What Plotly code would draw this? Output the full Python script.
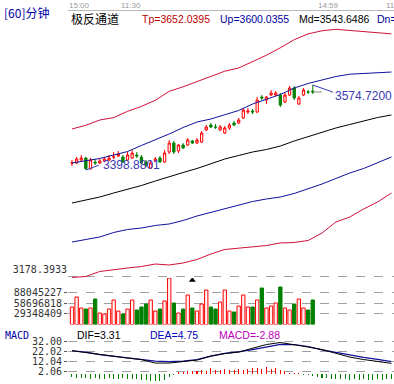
import plotly.graph_objects as go

# ---------------- data ----------------
bar_idx = list(range(53))
c_open = [3413.4, 3413.4, 3419.6, 3423.7, 3400.9, 3415.4, 3413.4, 3417.5, 3419.6, 3425.8,
          3427.8, 3425.8, 3419.6, 3423.7, 3429.9, 3425.8, 3415.4, 3403.0, 3417.5, 3423.7,
          3415.4, 3436.1, 3454.7, 3438.2, 3450.6, 3450.6, 3458.9, 3454.7, 3456.8, 3481.6,
          3492.0, 3487.8, 3481.6, 3475.4, 3485.8, 3496.1, 3496.1, 3506.5, 3518.9, 3520.9,
          3518.9, 3549.9, 3543.7, 3554.0, 3554.0, 3554.0, 3539.6, 3554.0, 3568.5, 3535.4,
          3554.0, 3560.3, 3562.3]
c_close = [3413.6, 3421.6, 3423.7, 3402.0, 3419.6, 3413.4, 3417.5, 3421.6, 3423.7, 3426.0,
           3432.0, 3415.4, 3429.9, 3434.0, 3427.8, 3413.4, 3409.2, 3413.4, 3421.6, 3415.4,
           3434.0, 3454.7, 3436.1, 3450.6, 3444.4, 3460.9, 3454.7, 3460.9, 3475.4, 3487.8,
           3487.8, 3487.6, 3487.8, 3485.8, 3492.0, 3492.0, 3502.3, 3523.0, 3520.9, 3518.9,
           3543.7, 3547.9, 3549.9, 3558.2, 3558.2, 3533.4, 3554.0, 3568.5, 3547.9, 3547.9,
           3564.4, 3560.1, 3560.3]
c_high = [3419.6, 3425.8, 3429.9, 3425.8, 3423.7, 3421.6, 3421.6, 3425.8, 3429.9, 3436.1,
          3438.2, 3429.9, 3436.1, 3440.2, 3436.1, 3429.9, 3419.6, 3417.5, 3425.8, 3427.8,
          3440.2, 3460.9, 3458.9, 3452.7, 3454.7, 3465.1, 3460.9, 3465.1, 3479.6, 3492.0,
          3496.1, 3494.0, 3492.0, 3489.9, 3496.1, 3500.3, 3506.5, 3527.1, 3527.1, 3525.1,
          3549.9, 3554.0, 3552.0, 3564.4, 3562.3, 3558.2, 3558.2, 3572.7, 3572.7, 3552.0,
          3568.5, 3564.4, 3574.72]
c_low = [3407.1, 3411.3, 3417.5, 3398.8801, 3400.9, 3409.2, 3411.3, 3415.4, 3417.5, 3421.6,
         3425.8, 3413.4, 3417.5, 3421.6, 3423.7, 3411.3, 3405.1, 3400.9, 3415.4, 3413.4,
         3413.4, 3432.0, 3432.0, 3434.0, 3442.3, 3448.5, 3452.7, 3452.7, 3454.7, 3479.6,
         3485.8, 3483.7, 3479.6, 3473.4, 3481.6, 3489.9, 3494.0, 3504.4, 3514.7, 3514.7,
         3516.8, 3543.7, 3535.4, 3552.0, 3552.0, 3529.2, 3537.5, 3552.0, 3543.7, 3533.4,
         3552.0, 3556.1, 3556.1]
volume = [48000000, 75400000, 45300000, 42500000, 45300000, 69900000, 31500000, 28800000,
          42500000, 67200000, 37000000, 28800000, 42500000, 67200000, 39800000, 48000000,
          56200000, 67200000, 37000000, 42500000, 64500000, 127500000, 59000000, 31500000,
          42500000, 80900000, 45300000, 37000000, 56200000, 94600000, 48000000, 42500000,
          61700000, 94600000, 37000000, 34300000, 50700000, 80900000, 48000000, 48000000,
          67200000, 100100000, 45300000, 50700000, 59000000, 102900000, 45300000, 39800000,
          56200000, 69900000, 45300000, 39800000, 67200000]

line_idx = [0, 3, 6, 9, 12, 15, 18, 21, 24, 27, 30, 33, 36, 39, 42, 45, 48, 51, 54, 57, 60, 63, 66, 69]
tp = [3483.7, 3491.4, 3502.3, 3507.3, 3520.3, 3530.5, 3543.1, 3561.7, 3571.0, 3581.8, 3592.3, 3603.3,
      3609.9, 3622.3, 3636.4, 3651.7, 3668.5, 3680.5, 3686.9, 3690.0, 3687.5, 3684.8, 3682.7, 3680.5]
up = [3413.4, 3417.5, 3422.7, 3429.9, 3437.1, 3449.6, 3460.9, 3473.4, 3486.8, 3498.2, 3504.4, 3513.7,
      3522.0, 3535.4, 3545.8, 3555.1, 3568.5, 3577.9, 3585.1, 3592.3, 3597.1, 3599.1, 3600.4, 3601.6]
md = [3330.6, 3336.8, 3343.0, 3351.3, 3358.5, 3366.8, 3376.1, 3385.4, 3393.7, 3402.0, 3412.3, 3421.6,
      3428.9, 3436.1, 3441.3, 3448.5, 3458.9, 3468.2, 3476.9, 3485.8, 3493.0, 3500.3, 3507.5, 3512.7]
dn = [3249.9, 3255.1, 3260.3, 3269.6, 3275.8, 3278.9, 3284.1, 3287.2, 3294.4, 3303.7, 3311.0, 3319.2,
      3325.4, 3333.7, 3338.9, 3343.0, 3350.3, 3359.6, 3369.9, 3381.3, 3392.7, 3402.0, 3413.4, 3425.8]
dn2 = [3176.5, 3178.6, 3188.9, 3193.1, 3196.1, 3199.2, 3204.4, 3202.3, 3206.5, 3213.7, 3225.1, 3234.4,
       3237.5, 3239.6, 3242.6, 3247.9, 3248.9, 3253.0, 3268.5, 3291.3, 3301.6, 3318.2, 3332.7, 3351.3]

dif = [23.0, 21.2, 18.7, 17.4, 15.7, 14.2, 10.7, 10.7, 12.2, 13.7, 17.7, 20.2,
       21.7, 25.7, 29.2, 31.2, 29.2, 26.7, 24.2, 20.2, 16.7, 14.2, 12.2, 10.4]
dea = [23.0, 21.7, 19.2, 17.7, 16.2, 14.7, 12.7, 12.2, 12.7, 14.2, 17.7, 20.4,
       21.9, 24.2, 27.0, 29.4, 29.2, 27.2, 23.9, 21.2, 18.7, 16.4, 14.4, 12.2]
macd_idx = list(range(70))
macd_hist = [-3, -4, -4, -4, -5, -4, -5, -5, -4, -5, -5, -4, -5, -5, -5, -6, -6, -7, -7, -7,
             -6, -3, -1.5, 1.5, 2, 2.5, 3, 2.5, 4, 3, 6, 4, 3.5, 5, 4, 3.5, 4.5, 4, 5, 5.5,
             6, 5, 6.5, 5, 6, 4, 3, 1, 0.8, 0.5, -0.8, -1, -2, -3, -4, -4, -5, -5, -5.5, -5,
             -6, -5.5, -6, -5.5, -6, -6, -5.5, -6, -5.5, -5]

vol_ticks = [29348409, 58696818, 88045227]
macd_ticks = [2.06, 12.04, 22.02, 32.00]
main_tick = 3178.3933
signal_idx = [26]
time_labels = ["15:00", "11:30", "14:59", "11:30"]
period_label = "[60]分钟"
ind_name = "极反通道"
legend_vals = {"Tp": "3652.0395", "Up": "3600.0355", "Md": "3543.6486"}
macd_vals = {"DIF": "3.31", "DEA": "4.75", "MACD": "-2.88"}

# ---------------- style ----------------
W, H = 394, 384
def py(p):
    return 1 - p / H
def pxx(p):
    return p / W

RED = "#FF0000"
GREEN = "#008000"
DRED = "#D0103A"
NAVY = "#10109A"
MONO = "DejaVu Sans Mono"
SANS = "Liberation Sans"
CJK = "Noto Sans CJK SC"

x_range = [-0.86, 69.55]
x_dom = [pxx(68), 1]

fig = go.Figure()

# channel lines
for vals, col in [(tp, DRED), (up, NAVY), (md, "#000000"), (dn, NAVY), (dn2, DRED)]:
    fig.add_trace(go.Scatter(x=line_idx, y=vals, mode="lines", line=dict(color=col, width=1),
                             xaxis="x", yaxis="y", hoverinfo="skip"))

fig.add_trace(go.Candlestick(
    x=bar_idx, open=c_open, high=c_high, low=c_low, close=c_close,
    increasing=dict(line=dict(color=RED, width=1), fillcolor="#FFFFFF"),
    decreasing=dict(line=dict(color=GREEN, width=1), fillcolor=GREEN),
    xaxis="x", yaxis="y", hoverinfo="skip"))

# low / high markers
lo_i = min(range(len(c_low)), key=lambda i: c_low[i])
hi_i = max(range(len(c_high)), key=lambda i: c_high[i])
MARK = "#3B3BB5"
fig.add_trace(go.Scatter(x=[lo_i, lo_i + 2.8], y=[c_low[lo_i], c_low[lo_i] + 10],
                         mode="lines", line=dict(color=MARK, width=1), xaxis="x", yaxis="y"))
fig.add_trace(go.Scatter(x=[hi_i, hi_i + 4.3], y=[c_high[hi_i], c_close[hi_i]],
                         mode="lines", line=dict(color=MARK, width=1), xaxis="x", yaxis="y"))
fig.add_trace(go.Scatter(x=[hi_i, hi_i + 4.3], y=[c_close[hi_i], c_close[hi_i]],
                         mode="lines", line=dict(color="#888888", width=1, dash="dash"),
                         xaxis="x", yaxis="y"))

# volume
up_flags = [c >= o for o, c in zip(c_open, c_close)]
fig.add_trace(go.Bar(x=bar_idx, y=volume, width=0.72,
                     marker=dict(color=["#FFF2F2" if u else GREEN for u in up_flags],
                                 line=dict(color=[RED if u else GREEN for u in up_flags], width=1)),
                     xaxis="x2", yaxis="y2", hoverinfo="skip"))
fig.add_trace(go.Scatter(x=signal_idx, y=[max(volume) * 0.955] * len(signal_idx), mode="markers",
                         marker=dict(symbol="triangle-up", size=6, color="#000000"),
                         xaxis="x2", yaxis="y2"))

# MACD
fig.add_trace(go.Bar(x=macd_idx, y=macd_hist, width=0.22,
                     marker=dict(color=[RED if v > 0 else GREEN for v in macd_hist], line=dict(width=0)),
                     xaxis="x3", yaxis="y3", hoverinfo="skip"))
fig.add_trace(go.Scatter(x=line_idx, y=dea, mode="lines", line=dict(color=NAVY, width=1.2),
                         xaxis="x3", yaxis="y3"))
fig.add_trace(go.Scatter(x=line_idx, y=dif, mode="lines", line=dict(color="#000000", width=1),
                         xaxis="x3", yaxis="y3"))

tickfont = dict(family=MONO, size=10, color="#333333")
common_x = dict(domain=x_dom, range=x_range, visible=False, fixedrange=True)
fig.update_layout(
    width=W, height=H, margin=dict(l=0, r=0, t=0, b=0),
    paper_bgcolor="white", plot_bgcolor="white", showlegend=False,
    bargap=0, barmode="overlay", boxgap=0.3,
    xaxis=dict(**common_x, anchor="y", rangeslider=dict(visible=False)),
    xaxis2=dict(**common_x, anchor="y2"),
    xaxis3=dict(**common_x, anchor="y3"),
    yaxis=dict(domain=[py(279), py(22)], range=[3173.36, 3705.09], tickvals=[main_tick],
               ticktext=[f"{main_tick:.4f}"], ticklabelposition="outside top",
               showgrid=True, gridcolor="#A0A0A0", griddash="dash", zeroline=False,
               showline=False, tickfont=tickfont, ticks="", fixedrange=True),
    yaxis2=dict(domain=[py(324.5), py(278)], range=[0, 127.6e6], tickvals=vol_ticks,
                ticktext=[str(v) for v in vol_ticks], showgrid=True, gridcolor="#A0A0A0",
                griddash="dash", zeroline=False, showline=False, tickfont=tickfont,
                ticks="outside", ticklen=3, tickcolor="#555555", fixedrange=True),
    yaxis3=dict(domain=[0, py(327)], range=[-10.2, 46.7], tickvals=macd_ticks,
                ticktext=[f"{v:.2f}" for v in macd_ticks], showgrid=True, gridcolor="#A0A0A0",
                griddash="dash", zeroline=False, showline=False, tickfont=tickfont,
                ticks="outside", ticklen=3, tickcolor="#555555", fixedrange=True),
)

ann = []
def add_text(x_px, y_px, text, color, size, family, anchor="left"):
    ann.append(dict(x=pxx(x_px), y=py(y_px), xref="paper", yref="paper", text=text,
                    showarrow=False, xanchor=anchor, yanchor="middle",
                    font=dict(color=color, size=size, family=family)))

# top time axis
for xp, t in zip([79, 131, 328, 396], time_labels):
    add_text(xp, 5, t, "#9A9A9A", 8, SANS, anchor="center")
fig.add_shape(type="line", xref="paper", yref="paper", x0=pxx(68), x1=1, y0=py(10.5), y1=py(10.5),
              line=dict(color="#B8B8B8", width=1))

add_text(2, 12, period_label, "#0000A8", 12, CJK)
add_text(69, 18.5, ind_name, "#000000", 12, CJK)
add_text(140, 19, "Tp=" + legend_vals["Tp"], "#C00000", 10.5, SANS)
add_text(218, 19, "Up=" + legend_vals["Up"], "#0000A0", 10.5, SANS)
add_text(297, 19, "Md=" + legend_vals["Md"], "#000000", 10.5, SANS)
add_text(375, 19, "Dn=", "#0000A0", 10.5, SANS)

add_text(3, 335, "MACD", "#0000A8", 10, MONO)
add_text(75, 335, "DIF=" + macd_vals["DIF"], "#000000", 10.5, SANS)
add_text(148, 335, "DEA=" + macd_vals["DEA"], "#0000C0", 10.5, SANS)
add_text(217, 335, "MACD=" + macd_vals["MACD"], "#C000C0", 10.5, SANS)

# price marker labels (data-referenced)
ann.append(dict(x=lo_i + 3.3, y=c_low[lo_i] + 10, xref="x", yref="y", text=f"{c_low[lo_i]:.4f}",
                showarrow=False, xanchor="left", yanchor="middle",
                font=dict(color=MARK, size=12, family=SANS)))
ann.append(dict(x=hi_i + 4.4, y=c_close[hi_i] - 8, xref="x", yref="y", text=f"{c_high[hi_i]:.4f}",
                showarrow=False, xanchor="left", yanchor="middle",
                font=dict(color=MARK, size=12, family=SANS)))
fig.update_layout(annotations=ann)

fig.write_html("out.html", config={"displayModeBar": False, "staticPlot": True},
               post_script="document.body.style.margin='0';document.body.style.overflow='hidden';")
